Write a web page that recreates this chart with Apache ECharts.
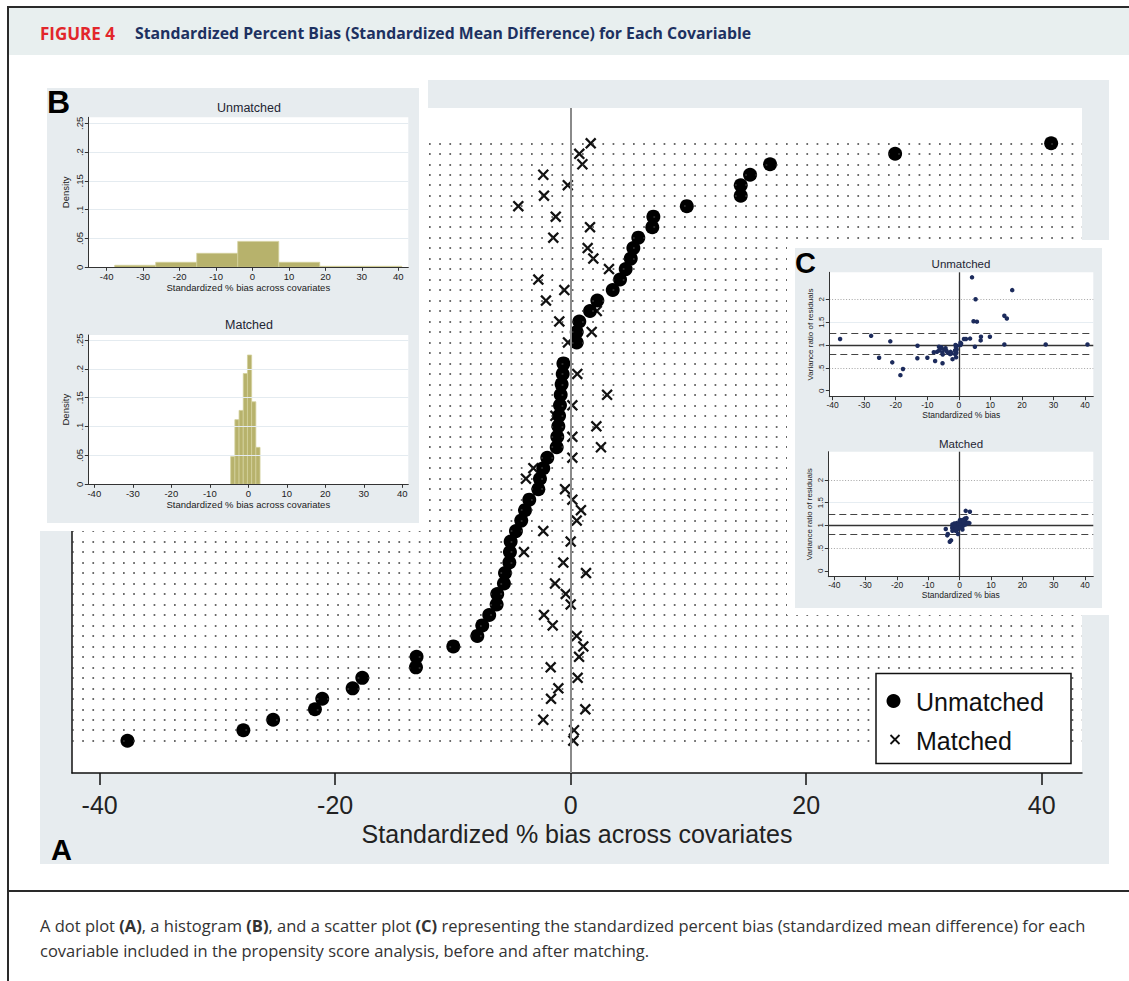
<!DOCTYPE html>
<html><head><meta charset="utf-8">
<script src="https://cdn.jsdelivr.net/npm/echarts@6/dist/echarts.min.js"></script>
<style>html,body{margin:0;padding:0;background:#fff}#c{width:1129px;height:981px}</style>
</head><body><div id="c"></div>
<script>
// ---- data (rows sorted top to bottom) ----
const biasUnmatched = [40.8, 27.55, 16.93, 15.23, 14.44, 14.44, 9.86, 7.02, 6.93, 5.74,
  5.32, 5.10, 4.67, 4.19, 3.57, 2.26, 1.64, 0.73, 0.51, 0.51,
  null, -0.62, -0.68, -0.77, -0.85, -0.91, -0.99, -1.05, -1.14, -1.19,
  -1.99, -2.33, -2.61, -2.75, -3.52, -3.88, -4.2, -4.65, -5.1, -5.16,
  -5.21, -5.58, -5.67, -6.24, -6.29, -6.92, -7.51, -7.93, -9.97, -13.09,
  -13.14, -17.7, -18.52, -21.1, -21.72, -25.27, -27.8, -37.64];
const biasMatched = [1.70, 0.73, 0.99, -2.33, -0.25, -2.27, -4.45, -1.27, 1.64, -1.48,
  1.44, 1.92, 3.25, -2.75, -0.54, -2.10, 2.21, -0.97, 1.78, -0.23,
  null, -0.6, 0.56, -0.8, 3.09, 0.14, -1.3, 2.18, 0.14, 2.57,
  0.14, -3.17, -3.8, -0.48, 0.14, 0.87, 0.51, -2.33, 0.0, -3.97,
  -0.63, 1.30, -1.33, -0.42, 0.0, -2.27, -1.53, 0.51, 1.07, 0.71,
  -1.7, 0.59, -1.05, -1.67, 1.24, -2.33, 0.28, 0.22];
const varRatioUnmatched = [1.01, 1.01, 2.2, 1.58, 1.64, 1.01, 1.18, 1.18, 1.10, 1.51,
  2.0, 0.96, 1.52, 2.48, 1.14, 1.13, 1.13, 1.03, 1.0, 1.05,
  null, 0.98, 0.9, 0.83, 0.73, 0.95, 0.86, 1.0, 0.8, 0.88,
  0.69, 0.82, 0.85, 0.80, 0.83, 0.87, 0.93, 0.9, 0.79, 0.6,
  0.83, 0.95, 0.92, 0.88, 0.96, 0.85, 0.65, 0.84, 0.72, 0.985,
  0.71, 0.475, 0.34, 0.62, 1.08, 0.72, 1.2, 1.13];
const varRatioMatched = [1.1, 1.05, 1.12, 0.95, 1.0, 0.93, 0.92, 0.98, 1.15, 1.02,
  1.08, 1.32, 1.30, 0.67, 0.81, 0.97, 1.04, 1.05, 1.02, 0.95,
  null, 1.0, 1.08, 0.9, 1.05, 1.12, 0.88, 1.16, 0.97, 1.06,
  1.02, 0.64, 0.81, 0.93, 1.0, 0.91, 1.04, 1.02, 0.98, 0.78,
  0.96, 1.06, 0.9, 1.03, 1.1, 0.97, 0.92, 1.0, 0.99, 1.07,
  1.04, 0.95, 0.93, 1.0, 1.1, 0.88, 1.01, 0.96];
const histUnmatchedEdges = [-37.8, -26.55, -15.3, -4.05, 7.2, 18.45, 29.7, 40.95];
const histUnmatchedDensity = [0.0035, 0.0087, 0.0243, 0.045, 0.0087, 0.0017, 0.0017];
const histMatchedEdges = [-4.58, -3.49, -2.40, -1.31, -0.22, 0.87, 1.96, 3.05];
const histMatchedDensity = [0.048, 0.112, 0.128, 0.192, 0.224, 0.143, 0.064];
const mainTicks = [-40, -20, 0, 20, 40];
const insetTicks = [-40, -30, -20, -10, 0, 10, 20, 30, 40];
const densityTicks = [0, 0.05, 0.1, 0.15, 0.2, 0.25];
const ratioTicks = [0, 0.5, 1, 1.5, 2];
const thresholdSolid = 1, thresholdDashed = [0.8, 1.25], thresholdDotted = [0.5, 2];

// ---- styling ----
const ARIAL = '"Liberation Sans", Arial, sans-serif';
const OPEN = '"Open Sans", "Noto Sans", sans-serif';
const PANEL_BG = '#e7ecef';
const NAVY = '#1c2b5c';
const KHAKI = '#b7b26c';
const stataNum = v => v === 0 ? '0' : String(v).replace(/^(-?)0\./, '$1.');

const rowIdx = biasUnmatched.map((_, i) => i + 1);
const xMark = 'path://M0,1.4L1.4,0L5,3.6L8.6,0L10,1.4L6.4,5L10,8.6L8.6,10L5,6.4L1.4,10L0,8.6L3.6,5Z';

function histData(edges, dens) { return dens.map((d, i) => [edges[i], edges[i + 1], d]); }
function histRender(params, api) {
  const p0 = api.coord([api.value(0), api.value(2)]);
  const p1 = api.coord([api.value(1), 0]);
  return { type: 'rect', shape: { x: p0[0], y: p0[1], width: p1[0] - p0[0], height: p1[1] - p0[1] },
    style: { fill: KHAKI, stroke: '#d3d09c', lineWidth: 0.8 } };
}

function insetX(gi, min, max, name, fs) {
  return {
    gridIndex: gi, type: 'value', min, max, z: 13,
    axisLine: { onZero: false, lineStyle: { color: '#333', width: 1 } },
    axisTick: { customValues: insetTicks, length: 3.5, lineStyle: { color: '#333', width: 1 } },
    axisLabel: { customValues: insetTicks, fontSize: fs, color: '#222', fontFamily: ARIAL, margin: 4 },
    splitLine: { show: false },
    name, nameLocation: 'middle', nameGap: fs + 5,
    nameTextStyle: { fontSize: fs, color: '#222', fontFamily: ARIAL }
  };
}

const option = {
  animation: false,
  backgroundColor: '#ffffff',
  grid: [
    { left: 72, top: 108, width: 1010, height: 665, show: true, backgroundColor: '#fff', borderWidth: 0, z: 1 },
    { left: 88.3, top: 117.3, width: 320, height: 150, show: true, backgroundColor: '#fff', borderWidth: 0, z: 11 },
    { left: 88.3, top: 335, width: 320, height: 149.3, show: true, backgroundColor: '#fff', borderWidth: 0, z: 11 },
    { left: 829.3, top: 272.3, width: 264, height: 124.4, show: true, backgroundColor: '#fff', borderWidth: 0, z: 11 },
    { left: 828.3, top: 451.7, width: 265, height: 125, show: true, backgroundColor: '#fff', borderWidth: 0, z: 11 }
  ],
  xAxis: [
    { gridIndex: 0, type: 'value', min: -42.35, max: 43.42, z: 3,
      axisLine: { onZero: false, lineStyle: { color: '#111', width: 1.5 } },
      axisTick: { customValues: mainTicks, length: 12, lineStyle: { color: '#111', width: 1.5 } },
      axisLabel: { customValues: mainTicks, fontSize: 25, color: '#222', fontFamily: ARIAL, margin: 19 },
      splitLine: { show: false },
      name: 'Standardized % bias across covariates', nameLocation: 'middle', nameGap: 48,
      nameTextStyle: { fontSize: 25, color: '#222', fontFamily: ARIAL } },
    insetX(1, -45.05, 42.74, 'Standardized % bias across covariates', 9.5),
    insetX(2, -41.56, 41.56, 'Standardized % bias across covariates', 9.5),
    insetX(3, -41.06, 42.64, 'Standardized % bias', 8.5),
    insetX(4, -41.93, 42.63, 'Standardized % bias', 8.5)
  ],
  yAxis: [
    { gridIndex: 0, type: 'value', inverse: true, min: -2.368, max: 61.08, z: 3,
      axisLine: { show: true, onZero: false, lineStyle: { color: '#111', width: 1.5 } },
      axisTick: { show: false }, axisLabel: { show: false }, splitLine: { show: false } },
    ...[1, 2].map((gi, k) => ({
      gridIndex: gi, type: 'value', min: 0, max: k === 0 ? 0.2604 : 0.2587, z: 13,
      axisLine: { show: true, onZero: false, lineStyle: { color: '#333', width: 1 } },
      axisTick: { show: true, customValues: densityTicks, length: 3.5, lineStyle: { color: '#333' } },
      axisLabel: { customValues: densityTicks, rotate: 90, fontSize: 9.5, color: '#222', fontFamily: ARIAL, margin: 4, formatter: stataNum },
      splitLine: { show: true, lineStyle: { color: '#e4ebf0', width: 1 } },
      name: 'Density', nameLocation: 'middle', nameGap: 18,
      nameTextStyle: { fontSize: 9.5, color: '#222', fontFamily: ARIAL } })),
    ...[3, 4].map((gi, k) => ({
      gridIndex: gi, type: 'value', min: -0.131, max: k === 0 ? 2.59 : 2.624, z: 13,
      axisLine: { show: true, onZero: false, lineStyle: { color: '#333', width: 1 } },
      axisTick: { show: true, customValues: ratioTicks, length: 3.5, lineStyle: { color: '#333' } },
      axisLabel: { customValues: ratioTicks, rotate: 90, fontSize: 8, color: '#222', fontFamily: ARIAL, margin: 4, formatter: stataNum },
      splitLine: { show: false },
      name: 'Variance ratio of residuals', nameLocation: 'middle', nameGap: 15,
      nameTextStyle: { fontSize: 8, color: '#222', fontFamily: ARIAL } }))
  ],
  series: [
    { type: 'line', xAxisIndex: 0, yAxisIndex: 0, data: [], z: 2, silent: true,
      markLine: { silent: true, symbol: ['none', 'none'], label: { show: false },
        lineStyle: { color: '#3a3a3a', width: 1.7, type: [1.7, 8.5] },
        data: rowIdx.map(r => ({ yAxis: r })) } },
    { type: 'line', xAxisIndex: 0, yAxisIndex: 0, data: [], z: 2, silent: true,
      markLine: { silent: true, symbol: ['none', 'none'], label: { show: false },
        lineStyle: { color: '#8a8a8a', width: 2, type: 'solid' }, data: [{ xAxis: 0 }] } },
    { name: 'Matched', type: 'scatter', xAxisIndex: 0, yAxisIndex: 0, z: 3,
      symbol: xMark, symbolSize: 11.5, itemStyle: { color: '#111', opacity: 1 },
      data: biasMatched.map((v, i) => v == null ? null : [v, rowIdx[i]]).filter(Boolean) },
    { name: 'Unmatched', type: 'scatter', xAxisIndex: 0, yAxisIndex: 0, z: 4,
      symbol: 'circle', symbolSize: 14, itemStyle: { color: '#000', opacity: 1 },
      data: biasUnmatched.map((v, i) => v == null ? null : [v, rowIdx[i]]).filter(Boolean) },
    { type: 'custom', xAxisIndex: 1, yAxisIndex: 1, z: 12, renderItem: histRender,
      encode: { x: [0, 1], y: 2 }, data: histData(histUnmatchedEdges, histUnmatchedDensity) },
    { type: 'custom', xAxisIndex: 2, yAxisIndex: 2, z: 12, renderItem: histRender,
      encode: { x: [0, 1], y: 2 }, data: histData(histMatchedEdges, histMatchedDensity) },
    ...[[3, biasUnmatched, varRatioUnmatched], [4, biasMatched, varRatioMatched]].map(([gi, bx, vy]) => ({
      type: 'scatter', xAxisIndex: gi, yAxisIndex: gi, z: 13, symbolSize: 4.5,
      itemStyle: { color: NAVY, opacity: 1 },
      data: bx.map((v, i) => v == null ? null : [v, vy[i]]).filter(Boolean),
      markLine: { silent: true, symbol: ['none', 'none'], label: { show: false }, z: 12,
        data: [
          { yAxis: 1.5, lineStyle: { color: '#e6edf2', width: 1, type: 'solid' } },
          ...thresholdDotted.map(v => ({ yAxis: v, lineStyle: { color: '#9a9a9a', width: 0.9, type: [1, 1.8] } })),
          ...thresholdDashed.map(v => ({ yAxis: v, lineStyle: { color: '#444', width: 1.2, type: [7, 4] } })),
          { yAxis: thresholdSolid, lineStyle: { color: '#333', width: 1.3, type: 'solid' } },
          { xAxis: 0, lineStyle: { color: '#333', width: 1.3, type: 'solid' } }
        ] } }))
  ],
  graphic: [
    // frame
    { type: 'rect', z: 0, shape: { x: 7, y: 6, width: 1130, height: 2 }, style: { fill: '#2a2a2a' } },
    { type: 'rect', z: 0, shape: { x: 7, y: 6, width: 2, height: 980 }, style: { fill: '#2a2a2a' } },
    { type: 'rect', z: 0, shape: { x: 7, y: 890, width: 1130, height: 2 }, style: { fill: '#2a2a2a' } },
    { type: 'rect', z: 0, shape: { x: 9, y: 8, width: 1125, height: 47 }, style: { fill: '#e8efef' } },
    { type: 'text', z: 1, style: { x: 40, y: 33, text: 'FIGURE 4', fill: '#e2262b', fontSize: 17, fontWeight: 'bold', fontFamily: OPEN, verticalAlign: 'middle' } },
    { type: 'text', z: 1, style: { x: 135, y: 33, text: 'Standardized Percent Bias (Standardized Mean Difference) for Each Covariable', fill: '#1d3161', fontSize: 15.8, fontWeight: 'bold', fontFamily: OPEN, verticalAlign: 'middle' } },
    // panel A background
    { type: 'rect', z: 0, shape: { x: 40, y: 80, width: 1069, height: 784 }, style: { fill: PANEL_BG } },
    { type: 'text', z: 20, style: { x: 51, y: 850, text: 'A', fill: '#000', fontSize: 29, fontWeight: 'bold', fontFamily: ARIAL, verticalAlign: 'middle' } },
    // panel B inset
    { type: 'rect', z: 9, shape: { x: 36, y: 76, width: 392, height: 455 }, style: { fill: '#fff' } },
    { type: 'rect', z: 10, shape: { x: 47, y: 88, width: 372, height: 435 }, style: { fill: PANEL_BG } },
    { type: 'text', z: 20, style: { x: 47, y: 102, text: 'B', fill: '#000', fontSize: 32, fontWeight: 'bold', fontFamily: ARIAL, verticalAlign: 'middle' } },
    { type: 'text', z: 20, style: { x: 249, y: 108, text: 'Unmatched', fill: '#1e2533', fontSize: 12.5, fontFamily: ARIAL, align: 'center', verticalAlign: 'middle' } },
    { type: 'text', z: 20, style: { x: 249, y: 325, text: 'Matched', fill: '#1e2533', fontSize: 12.5, fontFamily: ARIAL, align: 'center', verticalAlign: 'middle' } },
    // panel C inset
    { type: 'rect', z: 9, shape: { x: 787, y: 240, width: 330, height: 375 }, style: { fill: '#fff' } },
    { type: 'rect', z: 10, shape: { x: 795, y: 248, width: 307, height: 360 }, style: { fill: PANEL_BG } },
    { type: 'text', z: 20, style: { x: 795, y: 263, text: 'C', fill: '#000', fontSize: 29, fontWeight: 'bold', fontFamily: ARIAL, verticalAlign: 'middle' } },
    { type: 'text', z: 20, style: { x: 961, y: 264, text: 'Unmatched', fill: '#1e2533', fontSize: 11.5, fontFamily: ARIAL, align: 'center', verticalAlign: 'middle' } },
    { type: 'text', z: 20, style: { x: 961, y: 444, text: 'Matched', fill: '#1e2533', fontSize: 11.5, fontFamily: ARIAL, align: 'center', verticalAlign: 'middle' } },
    // legend of panel A
    { type: 'rect', z: 20, shape: { x: 876, y: 673.5, width: 195, height: 90 }, style: { fill: '#fff', stroke: '#111', lineWidth: 1.5 } },
    { type: 'circle', z: 21, shape: { cx: 893.5, cy: 701, r: 7 }, style: { fill: '#000' } },
    { type: 'line', z: 21, shape: { x1: 890.5, y1: 735, x2: 899.5, y2: 744 }, style: { stroke: '#111', lineWidth: 1.8 } },
    { type: 'line', z: 21, shape: { x1: 899.5, y1: 735, x2: 890.5, y2: 744 }, style: { stroke: '#111', lineWidth: 1.8 } },
    { type: 'text', z: 21, style: { x: 916, y: 702, text: 'Unmatched', fill: '#111', fontSize: 25, fontFamily: ARIAL, verticalAlign: 'middle' } },
    { type: 'text', z: 21, style: { x: 916, y: 741, text: 'Matched', fill: '#111', fontSize: 25, fontFamily: ARIAL, verticalAlign: 'middle' } },
    // caption
    { type: 'text', z: 1, style: { x: 40, y: 925, verticalAlign: 'middle', fill: '#333', fontSize: 16.5, fontFamily: OPEN,
      text: 'A dot plot {b|(A)}, a histogram {b|(B)}, and a scatter plot {b|(C)} representing the standardized percent bias (standardized mean difference) for each',
      rich: { b: { fontWeight: 'bold', fontSize: 16.5, fontFamily: OPEN, fill: '#333' } } } },
    { type: 'text', z: 1, style: { x: 40, y: 950, verticalAlign: 'middle', fill: '#333', fontSize: 16.5, fontFamily: OPEN,
      text: 'covariable included in the propensity score analysis, before and after matching.' } }
  ]
};

const chart = echarts.init(document.getElementById('c'), null, { renderer: 'svg', width: 1129, height: 981 });
chart.setOption(option);
</script>
</body></html>
